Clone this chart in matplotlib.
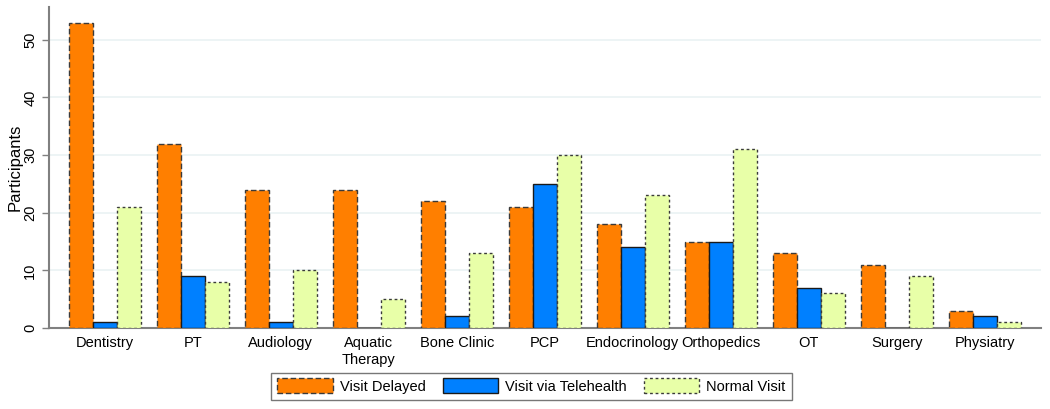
import matplotlib.pyplot as plt
import numpy as np

plt.rcParams['font.family'] = ['Liberation Sans', 'DejaVu Sans']

# data
clinics = ["Dentistry", "PT", "Audiology", "Aquatic\nTherapy", "Bone Clinic", "PCP",
           "Endocrinology", "Orthopedics", "OT", "Surgery", "Physiatry"]
visit_delayed = [53, 32, 24, 24, 22, 21, 18, 15, 13, 11, 3]
visit_telehealth = [1, 9, 1, 0, 2, 25, 14, 15, 7, 0, 2]
normal_visit = [21, 8, 10, 5, 13, 30, 23, 31, 6, 9, 1]
series_names = ["Visit Delayed", "Visit via Telehealth", "Normal Visit"]

fig = plt.figure(figsize=(10.5, 4.09), dpi=100)
ax = fig.add_axes([0.0467, 0.198, 0.9443, 0.785])

x = np.arange(len(clinics))
w = 0.273
edge = "#3a3a3a"

ax.bar(x - w, visit_delayed, w, color="#FF7F00", edgecolor=edge,
       linewidth=1.0, linestyle=(0, (4, 2)), label=series_names[0], zorder=3)
ax.bar(x, visit_telehealth, w, color="#0080FF", edgecolor="#1a1a1a",
       linewidth=1.0, label=series_names[1], zorder=3)
ax.bar(x + w, normal_visit, w, color="#E8FFA8", edgecolor=edge,
       linewidth=1.0, linestyle=(0, (2, 2)), label=series_names[2], zorder=3)

ax.set_xlim(-0.636, 10.636)
ax.set_ylim(0, 55.7)
ax.set_xticks(x)
ax.set_xticklabels(clinics, fontsize=10.5)
ax.set_yticks(range(0, 51, 10))
ax.set_yticklabels([str(v) for v in range(0, 51, 10)], rotation=90,
                   va="center", fontsize=10.5)
ax.tick_params(axis="x", length=0, pad=6)
ax.tick_params(axis="y", length=5, width=1, color="#808080")
ax.set_ylabel("Participants", fontsize=12)
ax.yaxis.set_label_coords(-0.027, 0.5)

ax.grid(True, axis="y", color="#EAF2F3", linewidth=1.2, zorder=0)
for s in ["top", "right"]:
    ax.spines[s].set_visible(False)
for s in ["left", "bottom"]:
    ax.spines[s].set_color("#808080")
    ax.spines[s].set_linewidth(1.5)

leg = ax.legend(loc="center", bbox_to_anchor=(0.4866, -0.181), ncol=3,
                fontsize=10.5, frameon=True, fancybox=False,
                handlelength=3.8, handleheight=1.2, columnspacing=1.15,
                borderpad=0.4, handletextpad=0.5, borderaxespad=0)
leg.get_frame().set_edgecolor("#555555")
leg.get_frame().set_linewidth(1.0)

fig.savefig("out.png", dpi=100)
